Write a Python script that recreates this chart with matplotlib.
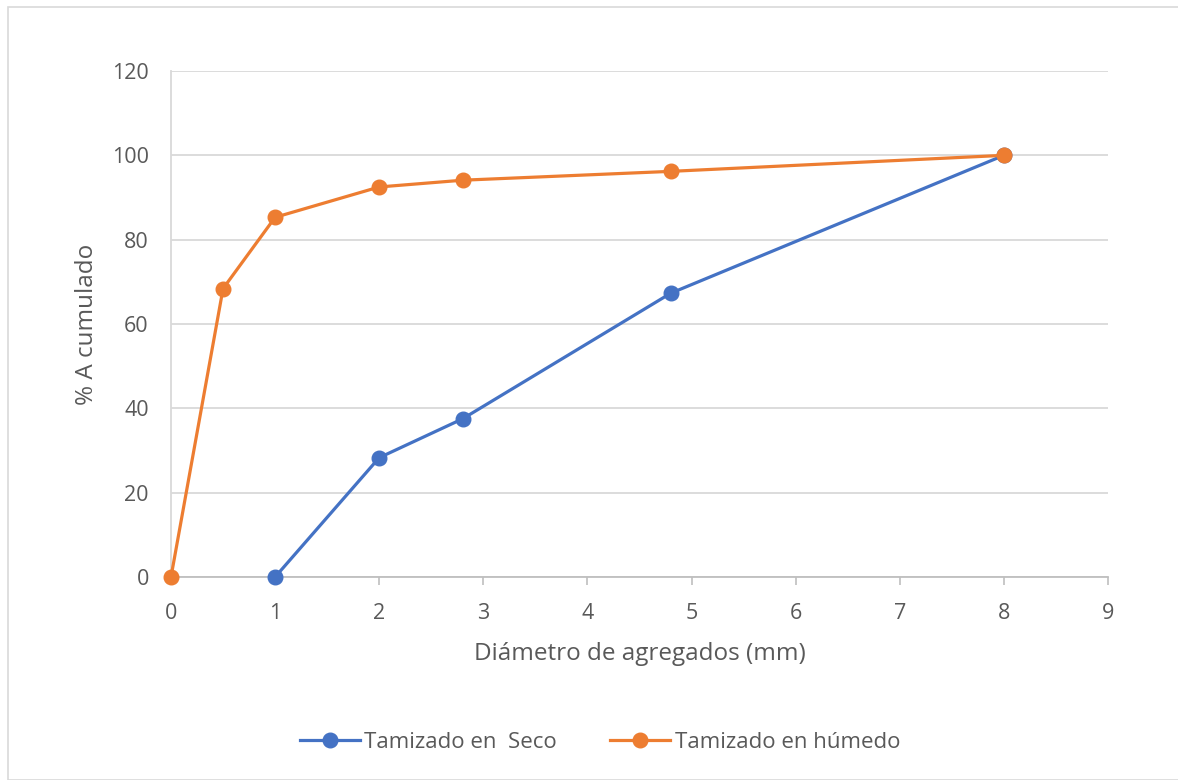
import matplotlib
matplotlib.use("Agg")
import matplotlib.pyplot as plt
from matplotlib.patches import Rectangle

# Sieve data: aggregate diameter (mm) vs cumulative percentage
diam_seco = [1, 2, 2.8, 4.8, 8]
acum_seco = [0, 28.3, 37.5, 67.3, 100]

diam_humedo = [0, 0.5, 1, 2, 2.8, 4.8, 8]
acum_humedo = [0, 68.4, 85.3, 92.5, 94.1, 96.2, 100]

x_ticks = list(range(0, 10))
y_ticks = list(range(0, 121, 20))

plt.rcParams['font.family'] = ['Open Sans', 'DejaVu Sans']

text_color = '#595959'
grid_color = '#d9d9d9'
blue = '#4472c4'
orange = '#ed7d31'

fig = plt.figure(figsize=(11.78, 7.8), dpi=100)
fig.patches.append(Rectangle((8 / 1178, 0), 1.2, 1 - 7 / 780, transform=fig.transFigure,
                             fill=False, edgecolor='#d9d9d9', linewidth=1.2))

ax = fig.add_axes([171 / 1178, 1 - 577 / 780, (1108 - 171) / 1178, (577 - 71) / 780])

ax.plot(diam_seco, acum_seco, color=blue, lw=2.3, marker='o', ms=10.5,
        label='Tamizado en  Seco', zorder=3)
ax.plot(diam_humedo, acum_humedo, color=orange, lw=2.3, marker='o', ms=10.5,
        label='Tamizado en húmedo', zorder=3)

ax.set_xlim(0, 9)
ax.set_ylim(0, 120)
ax.set_xticks(x_ticks)
ax.set_yticks(y_ticks)
ax.grid(axis='y', color=grid_color, lw=1.3)
ax.set_axisbelow(True)

for s in ['top', 'right']:
    ax.spines[s].set_visible(False)
ax.spines['left'].set_color(grid_color)
ax.spines['left'].set_linewidth(1.3)
ax.spines['bottom'].set_color('#bfbfbf')
ax.spines['bottom'].set_linewidth(1.3)

ax.tick_params(axis='x', direction='out', length=6, width=1.2, color='#bfbfbf',
               labelsize=15.5, labelcolor=text_color, pad=13)
ax.tick_params(axis='y', length=0, labelsize=15.5, labelcolor=text_color, pad=16)

ax.set_xlabel('Diámetro de agregados (mm)', fontsize=17.5, color=text_color, labelpad=13)
ax.set_ylabel('% A cumulado', fontsize=17.5, color=text_color, labelpad=9)

for artist in ax.get_lines():
    artist.set_clip_on(False)

fig.legend(loc='center', bbox_to_anchor=(600 / 1178, 1 - 742 / 780), ncol=2, frameon=False,
           fontsize=16, labelcolor=text_color, handlelength=2.7, columnspacing=2.4,
           handletextpad=0.2)

fig.savefig('out.png', dpi=100)
